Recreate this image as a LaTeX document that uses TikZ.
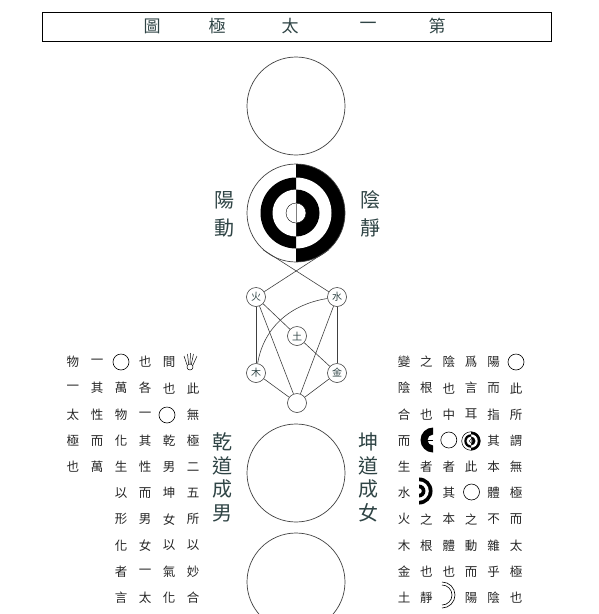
\documentclass[tikz,border=0pt]{standalone}
\usepackage{fontspec}
\setmainfont{Noto Sans CJK TC}
\usepackage{xcolor}
\usetikzlibrary{positioning}

\definecolor{inkteal}{HTML}{2F4445}
\definecolor{inkgray}{HTML}{262626}
\definecolor{linegray}{HTML}{404040}

\tikzset{
  bigcirc/.style={circle,draw=linegray,line width=0.7pt,minimum size=98pt,inner sep=0pt},
  elem/.style={circle,draw=linegray,line width=0.6pt,minimum size=19pt,inner sep=0pt,text=inkteal,font=\fontsize{10}{10}\selectfont},
  link/.style={draw=linegray,line width=0.6pt},
  titlechar/.style={text=inkteal,font=\fontsize{17}{17}\selectfont,inner sep=0pt},
  biglab/.style={text=inkteal,font=\fontsize{20}{20}\selectfont,inner sep=0pt},
  smallch/.style={text=inkgray,font=\fontsize{12.5}{12.5}\selectfont,inner sep=0pt},
  smallcirc/.style={circle,draw=black,line width=0.6pt,minimum size=16pt,inner sep=0pt},
  taiji right/.pic={
    \fill[black] (0,-49) arc[start angle=-90,end angle=90,radius=49] -- cycle;
    \fill[white] (0,-35.5) arc[start angle=-90,end angle=90,radius=35.5] -- cycle;
    \fill[black] (0,-23.5) arc[start angle=-90,end angle=90,radius=23.5] -- cycle;
    \fill[white] (0,-10) arc[start angle=-90,end angle=90,radius=10] -- cycle;
  },
  taiji/.pic={
    \fill[black] (0,-49) arc[start angle=-90,end angle=90,radius=49] -- cycle;
    \fill[white] (0,-35.5) arc[start angle=-90,end angle=90,radius=35.5] -- cycle;
    \fill[black] (0,-23.5) arc[start angle=-90,end angle=90,radius=23.5] -- cycle;
    \fill[black] (0,-35.5) arc[start angle=270,end angle=90,radius=35.5] -- cycle;
    \fill[white] (0,-23.5) arc[start angle=270,end angle=90,radius=23.5] -- cycle;
    \fill[white] (0,0) circle[radius=10];
    \draw[line width=0.4pt] (0,0) circle[radius=10];
    \draw[gray,line width=0.3pt] (0,-10) -- (0,10);
  }
}

\begin{document}
\begin{tikzpicture}[x=1pt,y=-1pt]
    \useasboundingbox (0,0) rectangle (599,614);
    \clip (0,0) rectangle (599,614);

    % title
    \node[draw,line width=0.8pt,minimum width=509pt,minimum height=29pt,inner sep=0pt] (titlebox) at (296.5,26.5) {};
    \node[titlechar] (t1) at (152,26) {圖};
    \node[titlechar] (t2) at (217,26) {極};
    \node[titlechar] (t3) at (290,26) {太};
    \node[titlechar] (t4) at (368,26) {一};
    \node[titlechar] (t5) at (437,26) {第};

    % wuji and taiji
    \node[bigcirc] (wuji) at (296,106) {};
    \pic at (296,213) {taiji};
    \node[bigcirc] (taiji) at (296,213) {};

    \node[biglab] (yang) at (224,200) {陽};
    \node[biglab] (dong) at (224,228) {動};
    \node[biglab] (yin)  at (370,200) {陰};
    \node[biglab] (jing) at (370,228) {靜};

    % five elements
    \node[elem] (huo)  at (256,297) {火};
    \node[elem] (shui) at (337,297) {水};
    \node[elem] (tu)   at (297,336) {土};
    \node[elem] (mu)   at (256,373) {木};
    \node[elem] (jin)  at (337,373) {金};
    \node[elem] (hui)  at (297,403) {};

    \draw[link] (taiji.228) -- (shui);
    \draw[link] (taiji.312) -- (huo);
    \draw[link] (huo) -- (mu);
    \draw[link] (shui) -- (jin);
    \draw[link] (huo) -- (tu);
    \draw[link] (huo) -- (hui);
    \draw[link] (shui) .. controls (292,304) and (264,326) .. (mu);
    \draw[link] (shui) -- (hui);
    \draw[link] (tu) -- (jin);
    \draw[link] (mu) -- (hui);
    \draw[link] (jin) -- (hui);

    % qian dao, kun dao
    \node[bigcirc] (qiankun) at (296,473) {};
    \foreach \ch [count=\i] in {乾,道,成,男}
        \node[biglab] (qian\i) at (222,{442+(\i-1)*23.7}) {\ch};
    \foreach \ch [count=\i] in {坤,道,成,女}
        \node[biglab] (kun\i) at (368,{442+(\i-1)*23.7}) {\ch};

    % wanwu
    \node[bigcirc] (wanwu) at (296,582) {};

    % left text
    \foreach \row [count=\r] in {
        {物,一,{},也,間,{}},
        {一,其,萬,各,也,此},
        {太,性,物,一,{},無},
        {極,而,化,其,乾,極},
        {也,萬,生,性,男,二},
        {{},{},以,而,坤,五},
        {{},{},形,男,女,所},
        {{},{},化,女,以,以},
        {{},{},者,一,氣,妙},
        {{},{},言,太,化,合}}
        \foreach \ch [count=\c] in \row
            \node[smallch] (l\r-\c) at ({73+(\c-1)*24},{362+(\r-1)*26.2}) {\ch};

    \node[smallcirc] (lo1) at (121,362) {};
    \node[smallcirc] (lo2) at (167,415) {};
    \node[circle,draw,line width=0.5pt,minimum size=6pt,inner sep=0pt] (sun) at (190,367) {};
    \draw[line width=0.5pt] (sun.150) -- (184,356);
    \draw[line width=0.5pt] (sun.115) -- (187.5,354);
    \draw[line width=0.5pt] (sun.90)  -- (190.5,353);
    \draw[line width=0.5pt] (sun.65)  -- (193.5,354);
    \draw[line width=0.5pt] (sun.30)  -- (197,356);

    % right text
    \foreach \row [count=\r] in {
        {變,之,陰,爲,陽,{}},
        {陰,根,也,言,而,此},
        {合,也,中,耳,指,所},
        {而,{},{},{},其,謂},
        {生,者,者,此,本,無},
        {水,{},其,{},體,極},
        {火,之,本,之,不,而},
        {木,根,體,動,雜,太},
        {金,也,也,而,乎,極},
        {土,靜,{},陽,陰,也}}
        \foreach \ch [count=\c] in \row
            \node[smallch] (r\r-\c) at ({404+(\c-1)*22.4},{362+(\r-1)*26.2}) {\ch};

    \node[smallcirc] (ro1) at (516,362) {};
    \node[smallcirc] (ro2) at (448.8,440) {};
    \node[smallcirc] (ro3) at (471.5,492) {};

    \fill[black] (433,427.5) arc[start angle=270,end angle=90,radius=12.5]
        -- (433,445.5) arc[start angle=90,end angle=270,radius=5.5] -- cycle;
    \draw[line width=0.6pt] (427,440) -- (433,440);

    \pic[scale=0.19] at (471,441) {taiji};
    \draw[line width=0.5pt] (471,441) circle[radius=9.3];

    \pic[scale=0.276] at (419,491) {taiji right};

    \draw[line width=0.6pt] (442,582) arc[start angle=-90,end angle=90,radius=13];
    \draw[line width=0.6pt] (442,585) arc[start angle=-90,end angle=90,radius=10];
\end{tikzpicture}
\end{document}
